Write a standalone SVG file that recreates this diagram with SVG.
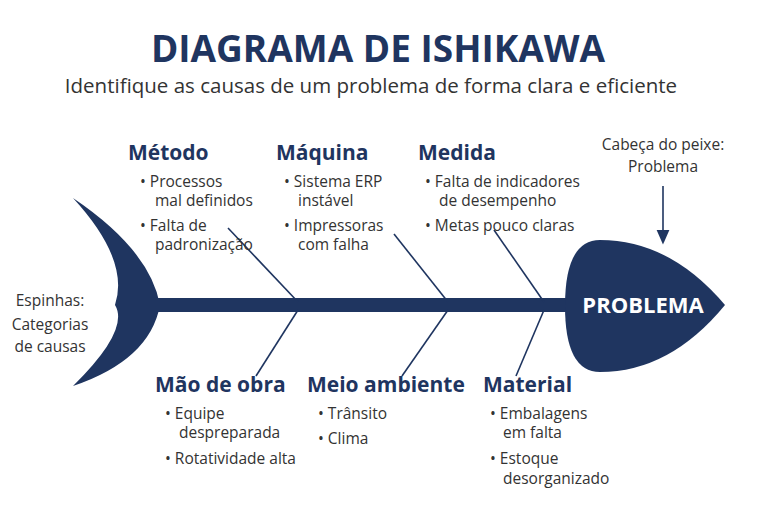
<svg xmlns="http://www.w3.org/2000/svg" width="768" height="507" viewBox="0 0 768 507">
<style>
.t{font-family:"Open Sans","Liberation Sans",sans-serif;}
.cat{font-family:"Open Sans","Liberation Sans",sans-serif;font-weight:bold;font-size:21px;fill:#1f3560;}
.b{font-family:"Open Sans","Liberation Sans",sans-serif;font-size:15.5px;fill:#333;}
.bone{stroke:#1f3560;stroke-width:1.6;fill:none;}
</style>
<defs><marker id="ar" markerWidth="10" markerHeight="10" refX="5" refY="5" orient="auto"><path d="M0,1 L9,5 L0,9z" fill="#1f3560"/></marker></defs>
<rect width="768" height="507" fill="#fff"/>
<text class="t" x="378" y="62" text-anchor="middle" font-size="37" font-weight="bold" fill="#1f3560">DIAGRAMA DE ISHIKAWA</text>
<text class="t" x="371" y="93" text-anchor="middle" font-size="20.5" fill="#333">Identifique as causas de um problema de forma clara e eficiente</text>
<g id="tail"><path d="M73,198 Q150,250 160,305 Q150,360 73,386 Q130,330 115,305 Q130,260 73,198z" fill="#1f3560"/></g>
<g id="spine"><rect x="150" y="298" width="440" height="14" fill="#1f3560"/></g>
<g id="head"><path d="M600,240 Q670,240 725,305 Q670,372 600,372 Q565,372 565,306 Q565,240 600,240z" fill="#1f3560"/>
<text class="t" x="643" y="313" text-anchor="middle" font-size="22" font-weight="bold" fill="#fff">PROBLEMA</text></g>
<g id="connectors">
<line class="bone" x1="228" y1="228" x2="298" y2="302"/>
<line class="bone" x1="394" y1="234" x2="448" y2="302"/>
<line class="bone" x1="494" y1="230" x2="544" y2="302"/>
<line class="bone" x1="298" y1="310" x2="256" y2="376"/>
<line class="bone" x1="448" y1="310" x2="402" y2="376"/>
<line class="bone" x1="544" y1="310" x2="516" y2="376"/>
<line class="bone" x1="663" y1="186" x2="663" y2="238" marker-end="url(#ar)"/>
</g>
<g id="metodo"><text class="cat" x="128" y="160">Método</text>
<text class="b" x="140" y="187">• Processos</text><text class="b" x="155" y="206">mal definidos</text>
<text class="b" x="140" y="231">• Falta de</text><text class="b" x="155" y="250">padronização</text></g>
<g id="maquina"><text class="cat" x="276" y="160">Máquina</text>
<text class="b" x="284" y="187">• Sistema ERP</text><text class="b" x="298" y="206">instável</text>
<text class="b" x="284" y="231">• Impressoras</text><text class="b" x="298" y="250">com falha</text></g>
<g id="medida"><text class="cat" x="418" y="160">Medida</text>
<text class="b" x="425" y="187">• Falta de indicadores</text><text class="b" x="439" y="206">de desempenho</text>
<text class="b" x="425" y="231">• Metas pouco claras</text></g>
<g id="maodeobra"><text class="cat" x="155" y="392">Mão de obra</text>
<text class="b" x="165" y="419">• Equipe</text><text class="b" x="179" y="438">despreparada</text>
<text class="b" x="165" y="464">• Rotatividade alta</text></g>
<g id="meio"><text class="cat" x="307" y="392">Meio ambiente</text>
<text class="b" x="318" y="419">• Trânsito</text><text class="b" x="318" y="444">• Clima</text></g>
<g id="material"><text class="cat" x="483" y="392">Material</text>
<text class="b" x="490" y="419">• Embalagens</text><text class="b" x="503" y="438">em falta</text>
<text class="b" x="490" y="464">• Estoque</text><text class="b" x="503" y="484">desorganizado</text></g>
<g id="cabeca"><text class="b" x="663" y="150" text-anchor="middle" font-size="17">Cabeça do peixe:</text>
<text class="b" x="663" y="172" text-anchor="middle" font-size="17">Problema</text></g>
<g id="espinhas"><text class="b" x="50" y="306" text-anchor="middle" font-size="17">Espinhas:</text>
<text class="b" x="50" y="330" text-anchor="middle" font-size="17">Categorias</text>
<text class="b" x="50" y="352" text-anchor="middle" font-size="17">de causas</text></g>
</svg>
